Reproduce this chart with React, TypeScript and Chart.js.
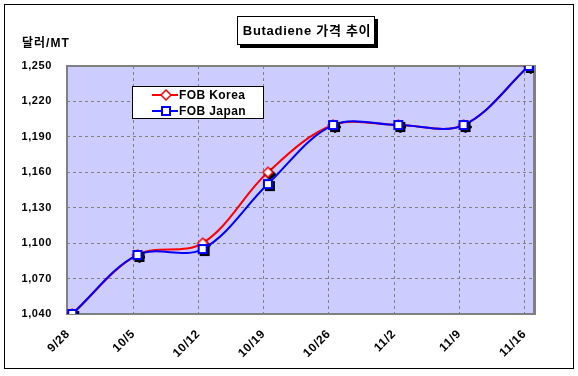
import React, { useEffect, useRef } from "react";
import { Chart, registerables } from "chart.js";
Chart.register(...registerables);

const categories = ["9/28", "10/5", "10/12", "10/19", "10/26", "11/2", "11/9", "11/16"];
const koreaValues = [1040, 1090, 1100, 1160, 1200, 1200, 1200, 1250];
const japanValues = [1040, 1090, 1095, 1150, 1200, 1200, 1200, 1250];
const yTicks = [1040, 1070, 1100, 1130, 1160, 1190, 1220, 1250];
const seriesNames = ["FOB Korea", "FOB Japan"];
const titleText = "Butadiene 가격 추이";
const unitText = "달러/MT";

const FONT = "Arial, 'Liberation Sans', 'Noto Sans CJK KR', sans-serif";
const RED = "#FF0000";
const BLUE = "#0000FF";
const TICK_SHIFT = 0.065;

function makeMarker(shape: "square" | "diamond", color: string, shadow: boolean): HTMLCanvasElement {
  const c = document.createElement("canvas");
  c.width = 16;
  c.height = 16;
  const ctx = c.getContext("2d")!;
  const path = (off: number) => {
    ctx.beginPath();
    if (shape === "square") {
      ctx.rect(4 + off, 4 + off, 8, 8);
    } else {
      ctx.moveTo(8 + off, 3 + off);
      ctx.lineTo(13 + off, 8 + off);
      ctx.lineTo(8 + off, 13 + off);
      ctx.lineTo(3 + off, 8 + off);
      ctx.closePath();
    }
  };
  if (shadow) {
    path(2);
    ctx.fillStyle = "#000";
    ctx.lineWidth = 2;
    ctx.strokeStyle = "#000";
    ctx.fill();
    ctx.stroke();
  }
  path(0);
  ctx.fillStyle = "#fff";
  ctx.fill();
  ctx.strokeStyle = color;
  ctx.lineWidth = shape === "square" ? 2 : 1.5;
  ctx.stroke();
  return c;
}

export default function App() {
  const ref = useRef<HTMLCanvasElement | null>(null);

  useEffect(() => {
    const canvas = ref.current!;
    const koreaMarker = makeMarker("diamond", RED, true);
    const japanMarker = makeMarker("square", BLUE, true);
    const legendMarkers = [makeMarker("diamond", RED, false), makeMarker("square", BLUE, false)];
    const colors = [RED, BLUE];

    const decor = {
      id: "decor",
      beforeDraw(chart: any) {
        const { ctx, chartArea: a } = chart;
        ctx.save();
        ctx.fillStyle = "#fff";
        ctx.fillRect(0, 0, chart.width, chart.height);
        ctx.strokeStyle = "#000";
        ctx.lineWidth = 1;
        ctx.strokeRect(4.5, 4.5, 569, 364);
        ctx.fillStyle = "#CCCCFF";
        ctx.fillRect(a.left, a.top, a.right - a.left, a.bottom - a.top);
        ctx.restore();
        (ctx as any).letterSpacing = "0.6px";
      },
      beforeDatasetsDraw(chart: any) {
        const { ctx, chartArea: a } = chart;
        ctx.save();
        ctx.strokeStyle = "#808080";
        ctx.lineWidth = 2;
        ctx.strokeRect(a.left, a.top, a.right - a.left, a.bottom - a.top);
        ctx.fillStyle = "#808080";
        ctx.fillRect(a.right, a.top - 1, 2, a.bottom - a.top + 2);
        ctx.restore();
      },
      afterDraw(chart: any) {
        const { ctx } = chart;
        ctx.save();
        // title box
        const tx = 237, ty = 16, tw = 138, th = 29;
        ctx.fillStyle = "#000";
        ctx.fillRect(tx + 3, ty + 3, tw, th);
        ctx.fillStyle = "#fff";
        ctx.fillRect(tx, ty, tw, th);
        ctx.strokeStyle = "#000";
        ctx.lineWidth = 1;
        ctx.strokeRect(tx + 0.5, ty + 0.5, tw - 1, th - 1);
        ctx.fillStyle = "#000";
        (ctx as any).letterSpacing = "0.7px";
        ctx.font = `bold 13px ${FONT}`;
        ctx.textAlign = "center";
        ctx.textBaseline = "middle";
        ctx.fillText(titleText, tx + tw / 2 + 1, ty + th / 2 + 1);
        // unit label
        ctx.textAlign = "left";
        (ctx as any).letterSpacing = "1px";
        ctx.font = `bold 12px ${FONT}`;
        ctx.fillText(unitText, 22, 44);
        // legend
        const lx = 132, ly = 86, lw = 132, lh = 33;
        ctx.fillStyle = "#fff";
        ctx.fillRect(lx, ly, lw, lh);
        ctx.strokeStyle = "#000";
        ctx.strokeRect(lx + 0.5, ly + 0.5, lw - 1, lh - 1);
        (ctx as any).letterSpacing = "0.4px";
        seriesNames.forEach((name, i) => {
          const y = 95 + i * 16;
          ctx.strokeStyle = colors[i];
          ctx.lineWidth = 2;
          ctx.beginPath();
          ctx.moveTo(152, y);
          ctx.lineTo(178, y);
          ctx.stroke();
          ctx.drawImage(legendMarkers[i], 166 - 8, y - 8);
          ctx.fillStyle = "#000";
          ctx.font = `bold 12px ${FONT}`;
          ctx.textBaseline = "middle";
          ctx.fillText(name, 179, y + 1);
        });
        ctx.restore();
        (ctx as any).letterSpacing = "0px";
      },
    };

    const chart = new Chart(canvas, {
      type: "line",
      data: {
        datasets: [
          {
            label: seriesNames[0],
            data: koreaValues.map((v, i) => ({ x: i, y: v })),
            borderColor: RED,
            borderWidth: 2,
            tension: 0.35,
            pointStyle: koreaMarker as any,
            pointRadius: 5,
            order: 1,
          },
          {
            label: seriesNames[1],
            data: japanValues.map((v, i) => ({ x: i, y: v })),
            borderColor: BLUE,
            borderWidth: 2,
            tension: 0.35,
            pointStyle: japanMarker as any,
            pointRadius: 5,
            order: 0,
          },
        ],
      },
      options: {
        responsive: false,
        animation: false,
        layout: { padding: { top: 66, left: 0, right: 44, bottom: 0 } },
        plugins: {
          legend: { display: false },
          title: { display: false },
          tooltip: { enabled: false },
        },
        scales: {
          x: {
            type: "linear",
            min: -0.08,
            max: 7.08,
            afterBuildTicks: (s: any) => {
              s.ticks = categories.map((_, i) => ({ value: i - TICK_SHIFT }));
            },
            afterFit: (s: any) => {
              s.height = 62;
              s.paddingLeft = 0;
              s.paddingRight = 0;
            },
            grid: { color: "#808080", drawTicks: false, lineWidth: 1 },
            border: { display: false, dash: [3, 3] },
            ticks: {
              autoSkip: false,
              maxRotation: 45,
              minRotation: 45,
              padding: 13,
              color: "#000",
              font: { family: FONT, size: 12, weight: "bold" },
              callback: (v: any) => categories[Math.round(v)] ?? "",
            },
          },
          y: {
            min: 1040,
            max: 1250,
            afterBuildTicks: (s: any) => {
              s.ticks = yTicks.map((v) => ({ value: v }));
            },
            afterFit: (s: any) => {
              s.width = 67;
              s.paddingTop = 0;
              s.paddingBottom = 0;
            },
            grid: { color: "#808080", drawTicks: false, lineWidth: 1 },
            border: { display: false, dash: [3, 3] },
            ticks: {
              padding: 15,
              color: "#000",
              font: { family: FONT, size: 11, weight: "bold" },
              callback: (v: any) => Number(v).toLocaleString("en-US"),
            },
          },
        },
      },
      plugins: [decor],
    } as any);
    return () => chart.destroy();
  }, []);

  return (
    <div style={{ position: "fixed", left: 0, top: 0, width: 578, height: 376 }}>
      <canvas ref={ref} width={578} height={376} style={{ display: "block", width: 578, height: 376 }} />
    </div>
  );
}
